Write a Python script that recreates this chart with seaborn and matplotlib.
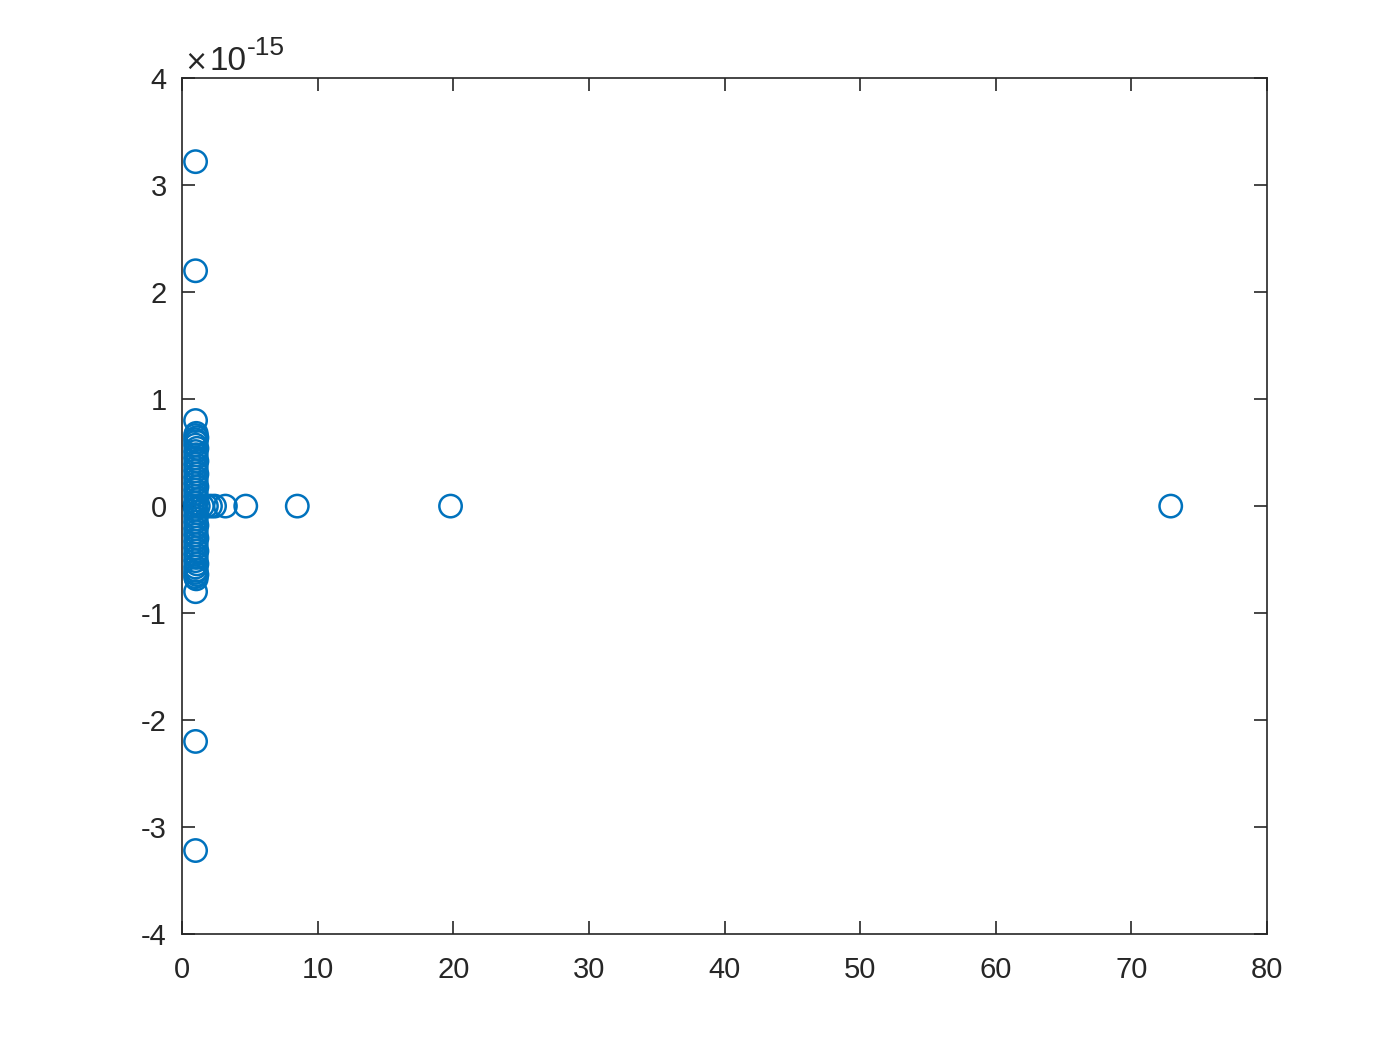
import matplotlib
matplotlib.use("Agg")
import matplotlib.pyplot as plt
import seaborn as sns
import pandas as pd

# Real parts (x) and imaginary parts (y, in units of 1e-15)
cluster_im = [3.22, 2.20, 0.80, 0.68, 0.66, 0.64, 0.62, 0.60, 0.57, 0.54, 0.51, 0.48,
              0.45, 0.42, 0.39, 0.36, 0.33, 0.30, 0.27, 0.24, 0.21, 0.18, 0.15, 0.12,
              0.09, 0.06, 0.03]
cluster_re = [1.0, 1.0, 1.0, 1.05, 1.0, 1.1, 1.0, 1.05, 1.0, 1.1, 1.0, 1.05,
              1.0, 1.1, 1.0, 1.05, 1.0, 1.1, 1.0, 1.05, 1.0, 1.1, 1.0, 1.05,
              1.0, 1.1, 1.0]
real_axis_re = [0.95, 1.2, 1.5, 1.8, 2.1, 2.4, 3.2, 4.7, 8.5, 19.8, 72.9]
real_axis_im = [0.0] * len(real_axis_re)

xs = cluster_re + cluster_re + real_axis_re
ys = [v * 1e-15 for v in cluster_im] + [-v * 1e-15 for v in cluster_im] + [v * 1e-15 for v in real_axis_im]
df = pd.DataFrame({"re": xs, "im": ys})

sns.set_style("white")
plt.rcParams.update({
    "font.family": ["Liberation Sans", "DejaVu Sans"],
    "axes.unicode_minus": False,
    "xtick.direction": "in",
    "ytick.direction": "in",
    "axes.edgecolor": "#262626",
    "xtick.color": "#262626",
    "ytick.color": "#262626",
    "text.color": "#262626",
})

fig = plt.figure(figsize=(14, 10.5), dpi=100)
ax = fig.add_axes([0.13, 0.1105, 0.775, 0.815])
sns.scatterplot(data=df, x="re", y="im", ax=ax, marker="o", s=260,
                facecolor="none", edgecolor="#0072BD", linewidth=1.8, legend=False)

ax.set_xlim(0, 80)
ax.set_ylim(-4e-15, 4e-15)
ax.set_xticks(range(0, 81, 10))
ax.set_yticks([i * 1e-15 for i in range(-4, 5)])
ax.tick_params(axis="both", which="both", top=True, right=True, bottom=True, left=True,
               length=9.5, width=1.2, labelsize=21, colors="#262626")
ax.tick_params(axis="x", pad=16)
ax.tick_params(axis="y", pad=11)
for sp in ax.spines.values():
    sp.set_linewidth(1.2)
    sp.set_color("#262626")
ax.set_xlabel("")
ax.set_ylabel("")

ax.set_yticklabels([str(i) for i in range(-4, 5)])
ax.yaxis.get_offset_text().set_visible(False)
fig.text(184 / 1400, 1 - 70 / 1050, "\u00d7", fontsize=20, family="DejaVu Sans",
         ha="left", va="baseline")
fig.text(209 / 1400, 1 - 70 / 1050, "10", fontsize=24, ha="left", va="baseline")
fig.text(247 / 1400, 1 - 55 / 1050, "-15", fontsize=19, ha="left", va="baseline")

fig.savefig("out.png", dpi=100, facecolor="white")
